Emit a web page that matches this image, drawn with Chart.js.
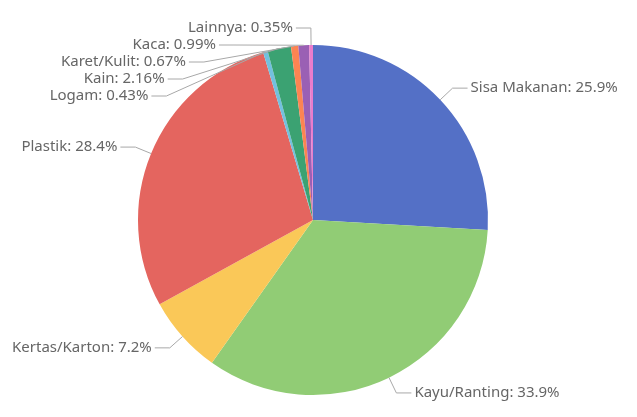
<!DOCTYPE html>
<html>
<head>
<meta charset="utf-8">
<script src="https://cdn.jsdelivr.net/npm/chart.js@4/dist/chart.umd.min.js"></script>
<style>
html,body{margin:0;padding:0;background:#fff;}
canvas{display:block;}
</style>
</head>
<body>
<canvas id="c" width="637" height="417"></canvas>
<script>
const categories = ['Sisa Makanan', 'Kayu/Ranting', 'Kertas/Karton', 'Plastik', 'Logam', 'Kain', 'Karet/Kulit', 'Kaca', 'Lainnya'];
const values = [25.9, 33.9, 7.2, 28.4, 0.43, 2.16, 0.67, 0.99, 0.35];
const valueLabels = ['25.9%', '33.9%', '7.2%', '28.4%', '0.43%', '2.16%', '0.67%', '0.99%', '0.35%'];
const colors = ['#5470c6', '#91cc75', '#fac858', '#e4655f', '#73c0de', '#3ba272', '#fc8452', '#9a60b4', '#ea7ccc'];

const LEN1 = 17, LEN2 = 15, GAP = 3, SPACING = 17;

const labelPlugin = {
  id: 'pieLabels',
  afterDraw(chart) {
    const ctx = chart.ctx;
    const meta = chart.getDatasetMeta(0);
    const items = [];
    meta.data.forEach((arc, i) => {
      const p = arc.getProps(['x', 'y', 'startAngle', 'endAngle', 'outerRadius'], true);
      const mid = (p.startAngle + p.endAngle) / 2;
      const dx = Math.cos(mid), dy = Math.sin(mid);
      const R1 = p.outerRadius + LEN1;
      items.push({
        i, cx: p.x, cy: p.y, R1,
        ex: p.x + p.outerRadius * dx, ey: p.y + p.outerRadius * dy,
        side: dx < 0 ? -1 : 1,
        y: p.y + R1 * dy
      });
    });
    [-1, 1].forEach(side => {
      const list = items.filter(it => it.side === side).sort((a, b) => a.y - b.y);
      for (let k = 1; k < list.length; k++) {
        if (list[k].y < list[k - 1].y + SPACING) list[k].y = list[k - 1].y + SPACING;
      }
    });
    ctx.save();
    ctx.font = '15px "Noto Sans", "Open Sans", sans-serif';
    ctx.textBaseline = 'middle';
    items.forEach(it => {
      const ddy = it.y - it.cy;
      const bx = it.cx + it.side * Math.sqrt(Math.max(0, it.R1 * it.R1 - ddy * ddy));
      const tx = bx + it.side * LEN2;
      ctx.strokeStyle = '#a8a8a8';
      ctx.lineWidth = 1;
      ctx.beginPath();
      ctx.moveTo(it.ex, it.ey);
      ctx.lineTo(bx, it.y);
      ctx.lineTo(tx, it.y);
      ctx.stroke();
      ctx.fillStyle = '#666666';
      ctx.textAlign = it.side < 0 ? 'right' : 'left';
      ctx.fillText(categories[it.i] + ': ' + valueLabels[it.i], tx + it.side * GAP, it.y);
    });
    ctx.restore();
  }
};

new Chart(document.getElementById('c'), {
  type: 'pie',
  data: {
    labels: categories,
    datasets: [{
      data: values,
      backgroundColor: colors,
      borderWidth: 0,
      hoverOffset: 0,
      offset: 0
    }]
  },
  options: {
    responsive: false,
    animation: false,
    events: [],
    layout: { padding: { left: 138, right: 149, top: 45, bottom: 22 } },
    plugins: { legend: { display: false }, tooltip: { enabled: false } }
  },
  plugins: [labelPlugin]
});
</script>
</body>
</html>
